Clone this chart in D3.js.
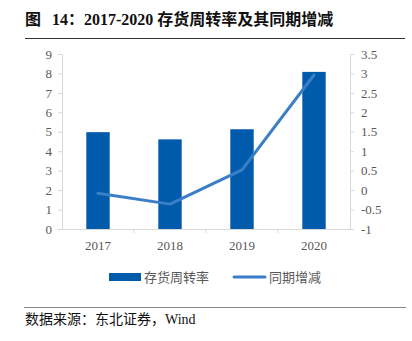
<!DOCTYPE html>
<html>
<head>
<meta charset="utf-8">
<script src="https://cdn.jsdelivr.net/npm/d3@7"></script>
<style>
  html, body { margin: 0; padding: 0; background: #fff; }
  svg { display: block; }
  text { white-space: pre; }
</style>
</head>
<body>
<svg id="chart" width="412" height="341"></svg>
<script>
// Inventory turnover (bars, left axis) and its year-on-year change (line, right axis)
const years = ["2017", "2018", "2019", "2020"];
const turnover = [4.98, 4.61, 5.13, 8.08];
const yoyChange = [-0.08, -0.36, 0.52, 2.96];
const leftTicks = [0, 1, 2, 3, 4, 5, 6, 7, 8, 9];
const rightTicks = [-1, -0.5, 0, 0.5, 1, 1.5, 2, 2.5, 3, 3.5];
const seriesNames = ["存货周转率", "同期增减"];

const svg = d3.select("#chart");
const barColor = "#005bac";
const lineColor = "#3a7fc6";
const axisColor = "#d9d9d9";
const tickText = "#595959";
const serif = "'Liberation Serif', 'Times New Roman', serif";
const cjk = "'Noto Sans CJK SC', sans-serif";

const plot = { left: 62, right: 350, top: 54, bottom: 229 };

const x = d3.scaleBand().domain(years).range([plot.left, plot.right]).paddingInner(0.675).paddingOuter(0.3375);
const yL = d3.scaleLinear().domain([0, 9]).range([plot.bottom, plot.top]);
const yR = d3.scaleLinear().domain([-1, 3.5]).range([plot.bottom, plot.top]);

// Title
const title = svg.append("text")
  .attr("x", 25).attr("y", 25)
  .attr("font-family", serif + ", " + cjk)
  .attr("font-size", 16).attr("font-weight", "bold").attr("fill", "#111");
title.append("tspan").text("图");
title.append("tspan").attr("x", 52).text("14：");
title.append("tspan").attr("x", 84).text("2017-2020 存货周转率及其同期增减");
svg.append("line")
  .attr("x1", 25).attr("x2", 405).attr("y1", 38.5).attr("y2", 38.5)
  .attr("stroke", "#333").attr("stroke-width", 1);

// Left axis
const leftAxis = svg.append("g")
  .attr("transform", `translate(${plot.left},0)`)
  .call(d3.axisLeft(yL).tickValues(leftTicks).tickSize(4).tickPadding(8).tickFormat(d3.format("d")));
// Right axis
const rightAxis = svg.append("g")
  .attr("transform", `translate(${plot.right},0)`)
  .call(d3.axisRight(yR).tickValues(rightTicks).tickSize(4).tickPadding(8).tickFormat(d => String(d)));
// Bottom axis with ticks at category boundaries
const bottomAxis = svg.append("g")
  .attr("transform", `translate(0,${plot.bottom})`)
  .call(d3.axisBottom(x).tickSize(0).tickPadding(12));

[leftAxis, rightAxis, bottomAxis].forEach(g => {
  g.select(".domain").attr("stroke", axisColor);
  g.selectAll(".tick line").attr("stroke", axisColor);
  g.selectAll(".tick text")
    .attr("fill", tickText).attr("font-family", serif).attr("font-size", 13);
});
leftAxis.selectAll(".tick text").attr("dx", "2");
rightAxis.selectAll(".tick text").attr("dx", "-1");

const step = x.step();
const boundaries = years.slice(1).map(d => x(d) - step * x.paddingInner() / 2);
svg.append("g").selectAll("line").data(boundaries).join("line")
  .attr("x1", d => d).attr("x2", d => d)
  .attr("y1", plot.bottom).attr("y2", plot.bottom + 4)
  .attr("stroke", axisColor);

// Bars
svg.append("g").selectAll("rect").data(years).join("rect")
  .attr("x", d => x(d))
  .attr("width", x.bandwidth())
  .attr("y", (d, i) => yL(turnover[i]))
  .attr("height", (d, i) => yL(0) - yL(turnover[i]))
  .attr("fill", barColor);

// Line
const line = d3.line()
  .x((d, i) => x(years[i]) + x.bandwidth() / 2)
  .y(d => yR(d));
svg.append("path")
  .datum(yoyChange)
  .attr("d", line)
  .attr("fill", "none")
  .attr("stroke", lineColor)
  .attr("stroke-width", 3)
  .attr("stroke-linejoin", "round")
  .attr("stroke-linecap", "round");

// Legend
const legend = svg.append("g").attr("transform", "translate(0,277)");
legend.append("rect").attr("x", 109).attr("y", -4).attr("width", 32).attr("height", 8).attr("fill", barColor);
legend.append("text").attr("x", 144).attr("y", 5)
  .attr("font-family", cjk).attr("font-size", 13).attr("fill", tickText).text(seriesNames[0]);
legend.append("line").attr("x1", 234).attr("x2", 265).attr("y1", 0).attr("y2", 0)
  .attr("stroke", lineColor).attr("stroke-width", 3).attr("stroke-linecap", "round");
legend.append("text").attr("x", 269).attr("y", 5)
  .attr("font-family", cjk).attr("font-size", 13).attr("fill", tickText).text(seriesNames[1]);

// Source note
svg.append("line")
  .attr("x1", 24).attr("x2", 406).attr("y1", 307.5).attr("y2", 307.5)
  .attr("stroke", "#888").attr("stroke-width", 1);
svg.append("text")
  .attr("x", 25).attr("y", 324)
  .attr("font-family", serif + ", " + cjk)
  .attr("font-size", 14).attr("fill", "#111")
  .text("数据来源：东北证券，Wind");
</script>
</body>
</html>
